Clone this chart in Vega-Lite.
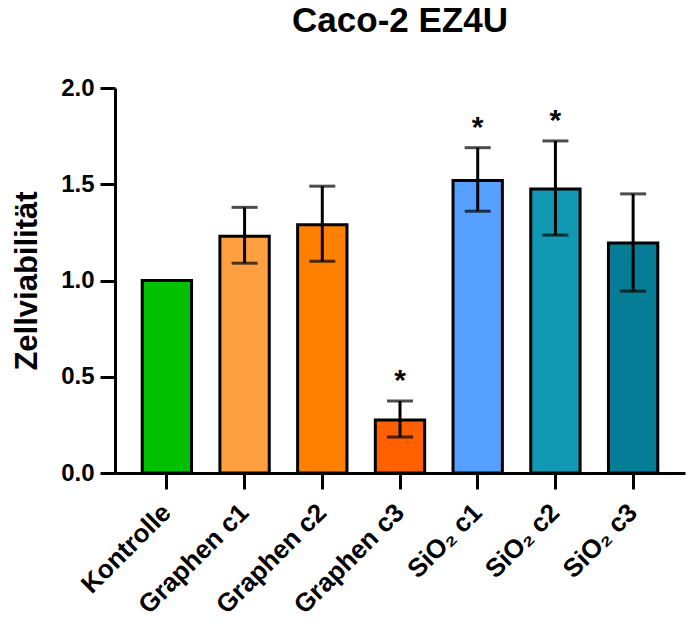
{
  "$schema": "https://vega.github.io/schema/vega-lite/v6.json",
  "width": 570,
  "height": 385,
  "autosize": {"type": "none"},
  "padding": {"left": 115, "top": 88, "right": 4, "bottom": 153},
  "background": "white",
  "title": {
    "text": "Caco-2 EZ4U",
    "font": "Liberation Sans",
    "fontSize": 35,
    "fontWeight": "bold",
    "color": "black",
    "anchor": "middle",
    "offset": 37
  },
  "config": {
    "view": {"stroke": null},
    "font": "Liberation Sans"
  },
  "data": {
    "values": [
      {"group": "Kontrolle", "mean": 1.0, "lo": null, "hi": null, "sig": ""},
      {"group": "Graphen c1", "mean": 1.23, "lo": 1.09, "hi": 1.38, "sig": ""},
      {"group": "Graphen c2", "mean": 1.29, "lo": 1.1, "hi": 1.49, "sig": ""},
      {"group": "Graphen c3", "mean": 0.275, "lo": 0.187, "hi": 0.374, "sig": "*"},
      {"group": "SiO₂ c1", "mean": 1.52, "lo": 1.36, "hi": 1.69, "sig": "*"},
      {"group": "SiO₂ c2", "mean": 1.475, "lo": 1.236, "hi": 1.725, "sig": "*"},
      {"group": "SiO₂ c3", "mean": 1.195, "lo": 0.945, "hi": 1.45, "sig": ""}
    ]
  },
  "encoding": {
    "x": {
      "field": "group",
      "type": "nominal",
      "sort": null,
      "scale": {"paddingInner": 0.365, "paddingOuter": 0.35},
      "axis": {
        "title": null,
        "labelAngle": -45,
        "labelAlign": "right",
        "labelBaseline": "middle",
        "labelFont": "Liberation Sans",
        "labelFontSize": 26,
        "labelFontWeight": "bold",
        "labelColor": "black",
        "labelPadding": 19,
        "labelOverlap": false,
        "labelBound": false,
        "domainColor": "black",
        "domainWidth": 3,
        "tickColor": "black",
        "tickWidth": 3,
        "tickSize": 16
      }
    }
  },
  "layer": [
    {
      "mark": {"type": "bar", "stroke": "black", "strokeWidth": 3},
      "encoding": {
        "y": {
          "field": "mean",
          "type": "quantitative",
          "scale": {"domain": [0, 2], "nice": false},
          "axis": {
            "title": "Zellviabilität",
            "titleFont": "Liberation Sans",
            "titleFontSize": 31,
            "titleFontWeight": "bold",
            "titleColor": "black",
            "titlePadding": 17,
            "values": [0, 0.5, 1, 1.5, 2],
            "format": ".1f",
            "labelFont": "Liberation Sans",
            "labelFontSize": 24,
            "labelFontWeight": "bold",
            "labelColor": "black",
            "labelPadding": 6,
            "grid": false,
            "domainColor": "black",
            "domainWidth": 3,
            "tickColor": "black",
            "tickWidth": 3,
            "tickSize": 15
          }
        },
        "color": {
          "field": "group",
          "type": "nominal",
          "sort": null,
          "legend": null,
          "scale": {
            "domain": ["Kontrolle", "Graphen c1", "Graphen c2", "Graphen c3", "SiO₂ c1", "SiO₂ c2", "SiO₂ c3"],
            "range": ["#00C000", "#FFA040", "#FF8000", "#FF6000", "#55A0FF", "#1199B4", "#077C96"]
          }
        }
      }
    },
    {
      "transform": [{"filter": "datum.hi != null"}],
      "mark": {"type": "rule", "color": "black", "strokeWidth": 3},
      "encoding": {
        "y": {"field": "lo", "type": "quantitative"},
        "y2": {"field": "hi"}
      }
    },
    {
      "transform": [{"filter": "datum.hi != null"}],
      "mark": {"type": "tick", "color": "black", "thickness": 3, "size": 26, "orient": "horizontal"},
      "encoding": {
        "y": {"field": "hi", "type": "quantitative"}
      }
    },
    {
      "transform": [{"filter": "datum.hi != null"}],
      "mark": {"type": "tick", "color": "black", "thickness": 3, "size": 26, "orient": "horizontal"},
      "encoding": {
        "y": {"field": "lo", "type": "quantitative"}
      }
    },
    {
      "transform": [{"filter": "datum.sig != ''"}],
      "mark": {"type": "text", "color": "black", "fontSize": 30, "fontWeight": "bold", "font": "Liberation Sans", "baseline": "middle", "dy": -20},
      "encoding": {
        "y": {"field": "hi", "type": "quantitative"},
        "text": {"field": "sig"}
      }
    }
  ]
}
